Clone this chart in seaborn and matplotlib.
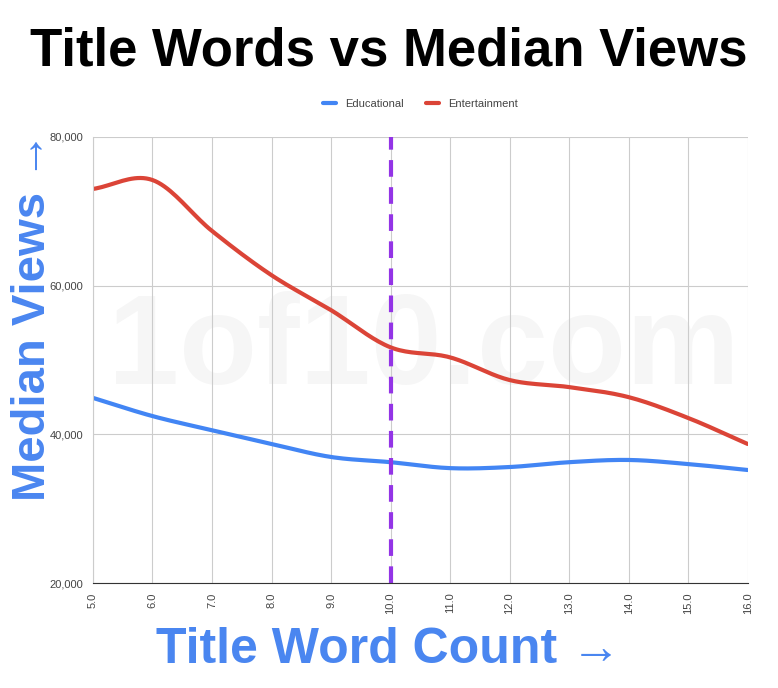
import numpy as np
import pandas as pd
import matplotlib
matplotlib.use("Agg")
import matplotlib.pyplot as plt
import seaborn as sns

word_count = [5, 6, 7, 8, 9, 10, 11, 12, 13, 14, 15, 16]
educational = [44900, 42450, 40550, 38700, 36950, 36250, 35450, 35600, 36250, 36550, 36000, 35200]
entertainment = [73000, 74200, 67350, 61400, 56700, 51700, 50350, 47300, 46350, 45000, 42200, 38700]
y_ticks = [20000, 40000, 60000, 80000]
x_ticks = [5, 6, 7, 8, 9, 10, 11, 12, 13, 14, 15, 16]

def smooth(x, y, n=20):
    x = np.asarray(x, float); y = np.asarray(y, float)
    xs, ys = [], []
    P = np.concatenate([[2*y[0]-y[1]], y, [2*y[-1]-y[-2]]])
    for i in range(len(x)-1):
        t = np.linspace(0, 1, n, endpoint=False)
        p0, p1, p2, p3 = P[i], P[i+1], P[i+2], P[i+3]
        yy = 0.5*((2*p1) + (-p0+p2)*t + (2*p0-5*p1+4*p2-p3)*t**2 + (-p0+3*p1-3*p2+p3)*t**3)
        xs.extend(x[i] + t*(x[i+1]-x[i])); ys.extend(yy)
    xs.append(x[-1]); ys.append(y[-1])
    return np.array(xs), np.array(ys)

rows = []
for name, vals in [("Educational", educational), ("Entertainment", entertainment)]:
    sx, sy = smooth(word_count, vals)
    rows.append(pd.DataFrame({"x": sx, "y": sy, "series": name}))
df = pd.concat(rows)

sns.set_style("white")
plt.rcParams['font.family'] = ['Liberation Sans', 'DejaVu Sans']
fig = plt.figure(figsize=(7.78, 6.88), dpi=100)
ax = fig.add_axes([0.1195, 0.1526, 0.8415, 0.6484])
sns.lineplot(data=df, x="x", y="y", hue="series", palette=["#4285f4", "#db4437"],
             linewidth=3, ax=ax, sort=False, estimator=None)
ax.axvline(10, color="#9334e6", lw=3, ls=(0, (4, 2.5)))
ax.set_xlim(5, 16); ax.set_ylim(20000, 80000)
ax.set_xticks(x_ticks)
ax.set_xticklabels([f"{v:.1f}" for v in x_ticks], rotation=90, fontsize=8, color="#444")
ax.set_yticks(y_ticks)
ax.set_yticklabels([f"{v:,}" for v in y_ticks], fontsize=8, color="#444")
ax.grid(True, color="#cccccc", lw=0.8)
for s in ["top", "right"]:
    ax.spines[s].set_visible(False)
ax.spines["left"].set_color("#cccccc"); ax.spines["bottom"].set_color("#333")
ax.set_xlabel(""); ax.set_ylabel("")
ax.text(0.505, 0.52, "1of10.com", transform=ax.transAxes, ha="center", va="center",
        fontsize=92, fontweight="bold", color="#000000", alpha=0.035, zorder=0)
leg = ax.legend(loc="lower center", bbox_to_anchor=(0.5, 1.04), ncol=2, frameon=False,
                fontsize=8, handlelength=1.2, title=None)
for t in leg.get_texts():
    t.set_color("#444")
fig.text(0.5, 0.925, "Title Words vs Median Views", ha="center", va="center",
         fontsize=38, fontweight="bold", color="black")
fig.text(0.5, 0.055, "Title Word Count →", ha="center", va="center",
         fontsize=36, fontweight="bold", color="#4a86f0", family=['Liberation Sans', 'DejaVu Sans'])
fig.text(0.042, 0.54, "Median Views →", ha="center", va="center", rotation=90,
         fontsize=34, fontweight="bold", color="#4a86f0", family=['Liberation Sans', 'DejaVu Sans'])
fig.savefig("out.png", dpi=100)
